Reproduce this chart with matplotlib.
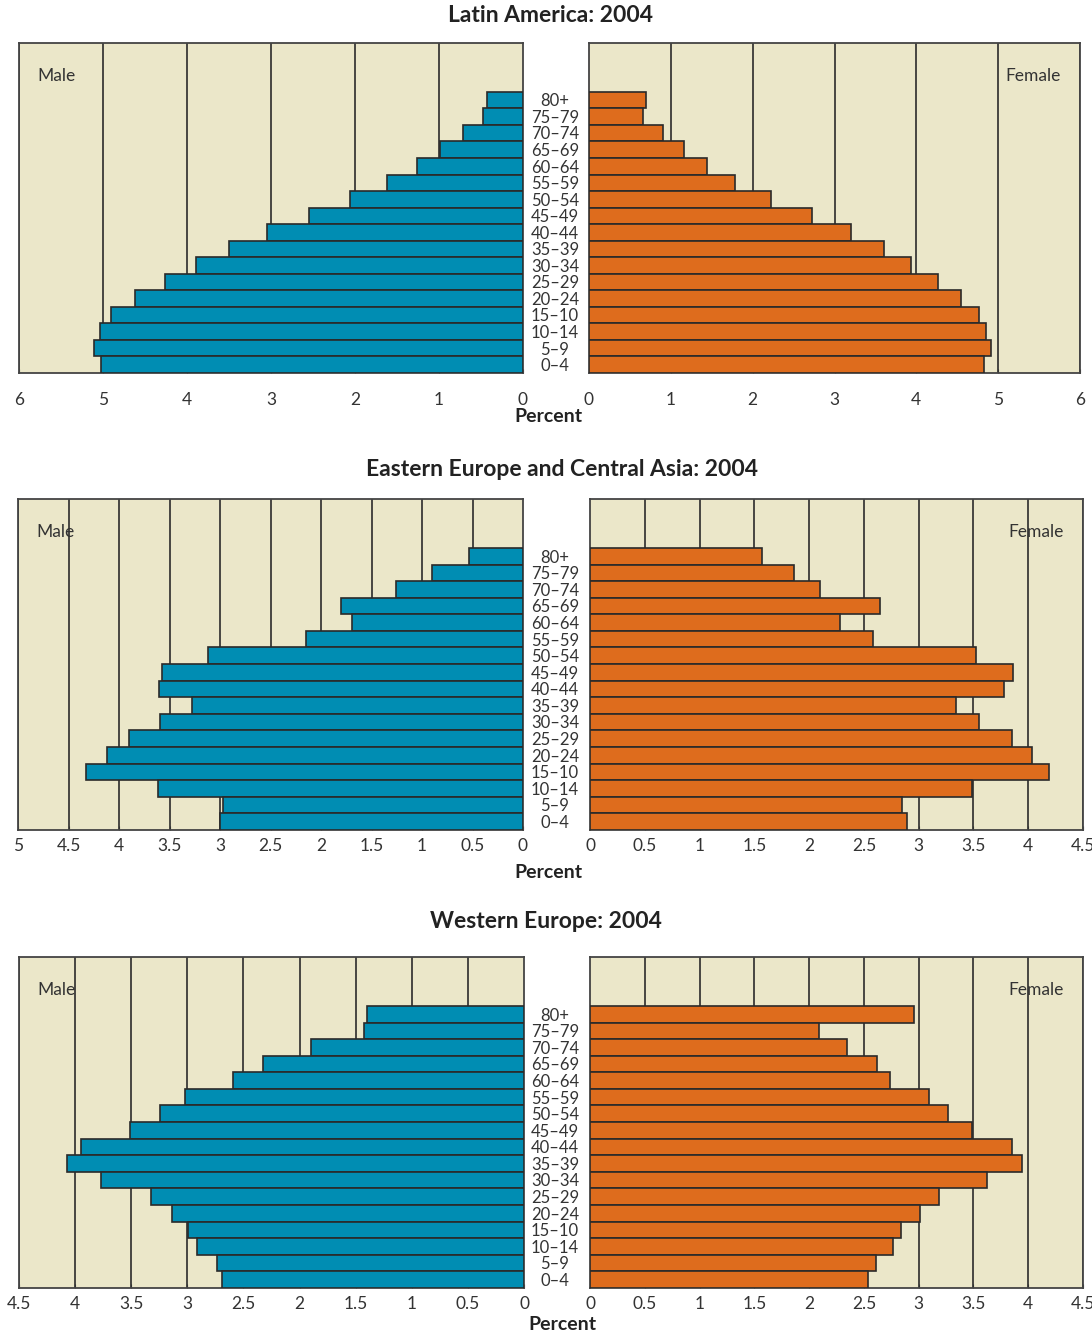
import matplotlib as mpl
mpl.use('Agg')
import matplotlib.pyplot as plt
import matplotlib.transforms as mtransforms

plt.rcParams['font.family'] = ['Lato', 'DejaVu Sans']

# Age groups, top to bottom as drawn (80+ first)
ages = ['80+', '75–79', '70–74', '65–69', '60–64', '55–59', '50–54', '45–49',
        '40–44', '35–39', '30–34', '25–29', '20–24', '15–10', '10–14', '5–9', '0–4']

# Latin America: 2004
la_male   = [0.43, 0.48, 0.71, 0.99, 1.26, 1.62, 2.06, 2.55, 3.05, 3.50, 3.89, 4.26, 4.62, 4.90, 5.04, 5.11, 5.02]
la_female = [0.70, 0.66, 0.90, 1.16, 1.44, 1.79, 2.22, 2.72, 3.20, 3.61, 3.93, 4.26, 4.55, 4.76, 4.85, 4.91, 4.83]

# Eastern Europe and Central Asia: 2004
ee_male   = [0.53, 0.90, 1.26, 1.80, 1.69, 2.15, 3.12, 3.57, 3.60, 3.28, 3.59, 3.90, 4.12, 4.33, 3.61, 2.97, 3.00]
ee_female = [1.57, 1.86, 2.10, 2.65, 2.28, 2.58, 3.52, 3.86, 3.78, 3.34, 3.55, 3.85, 4.03, 4.19, 3.49, 2.85, 2.89]

# Western Europe: 2004
we_male   = [1.40, 1.43, 1.90, 2.33, 2.59, 3.02, 3.24, 3.51, 3.95, 4.07, 3.77, 3.32, 3.14, 2.99, 2.91, 2.74, 2.69]
we_female = [2.96, 2.09, 2.35, 2.62, 2.74, 3.09, 3.27, 3.49, 3.85, 3.94, 3.62, 3.19, 3.01, 2.84, 2.77, 2.61, 2.54]

la_ticks = [0, 1, 2, 3, 4, 5, 6]
half_ticks = [0, 0.5, 1, 1.5, 2, 2.5, 3, 3.5, 4, 4.5]
half_labels = ['0', '0.5', '1', '1.5', '2', '2.5', '3', '3.5', '4', '4.5']

W, H = 1092, 1335
fig = plt.figure(figsize=(W / 100, H / 100), dpi=100)

BG = '#ebe7c9'
BLUE = '#008db3'
ORANGE = '#de6c1d'
EDGE = '#2a2a2a'
TXT = '#333333'


def px_axes(x0, y0, x1, y1):
    return fig.add_axes([x0 / W, 1 - y1 / H, (x1 - x0) / W, (y1 - y0) / H])


def style(ax, xmax, ticks, labels, pad):
    ax.set_facecolor(BG)
    ax.set_xlim(0, xmax)
    ax.set_ylim(-0.5, 19.45)
    ax.set_yticks([])
    ax.set_xticks(ticks)
    ax.set_xticklabels(labels)
    ax.tick_params(axis='x', direction='in', length=3, width=0.8, color=TXT,
                   labelsize=12.5, labelcolor=TXT, pad=pad)
    for t in ticks[1:]:
        ax.axvline(t, color='#2b2b2b', lw=1.2, zorder=1)
    for s in ax.spines.values():
        s.set_color('#444444')
        s.set_linewidth(1.3)


def pyramid(box_l, box_r, male, female, xmax, ticks, labels, pad, title, title_xy, pct_xy):
    ypos = [16 - i for i in range(len(ages))]

    axl = px_axes(*box_l)
    style(axl, xmax, ticks, labels, pad)
    axl.invert_xaxis()
    axl.barh(ypos, male, height=1.0, color=BLUE, edgecolor=EDGE, lw=1.2, zorder=3)
    axl.text(0.075, 0.9, 'Male', transform=axl.transAxes, fontsize=12.5,
             color=TXT, ha='center', va='center')

    axr = px_axes(*box_r)
    style(axr, xmax, ticks, labels, pad)
    axr.barh(ypos, female, height=1.0, color=ORANGE, edgecolor=EDGE, lw=1.2, zorder=3)
    axr.text(0.905, 0.9, 'Female', transform=axr.transAxes, fontsize=12.5,
             color=TXT, ha='center', va='center')

    trans = mtransforms.blended_transform_factory(fig.transFigure, axl.transData)
    for y, lab in zip(ypos, ages):
        axl.text(555 / W, y - 0.08, lab, transform=trans, fontsize=12, color=TXT,
                 ha='center', va='center', clip_on=False)

    fig.text(title_xy[0] / W, 1 - title_xy[1] / H, title, fontsize=16.5,
             fontweight='bold', color='#222222', ha='center', va='center')
    fig.text(pct_xy[0] / W, 1 - pct_xy[1] / H, 'Percent', fontsize=14,
             fontweight='bold', color='#222222', ha='center', va='center')
    return axl, axr


pyramid((19, 43, 523, 373), (589, 43, 1080, 373), la_male, la_female,
        6, la_ticks, [str(t) for t in la_ticks], 14,
        'Latin America: 2004', (551, 15), (548, 417))
ee_l, ee_r = pyramid((18, 499, 523, 830), (590, 499, 1083, 830), ee_male, ee_female,
                     5, half_ticks + [5], half_labels + ['5'], 6,
                     'Eastern Europe and Central Asia: 2004', (562, 470), (548, 872))

# right side of panel 2 only runs to 4.5
ee_r.set_xlim(0, 4.5)
ee_r.set_xticks(half_ticks)
ee_r.set_xticklabels(half_labels)

pyramid((19, 957, 524, 1288), (590, 957, 1083, 1288), we_male, we_female,
        4.5, half_ticks, half_labels, 6,
        'Western Europe: 2004', (546, 922), (562, 1324))

fig.savefig('out.png', dpi=100)
